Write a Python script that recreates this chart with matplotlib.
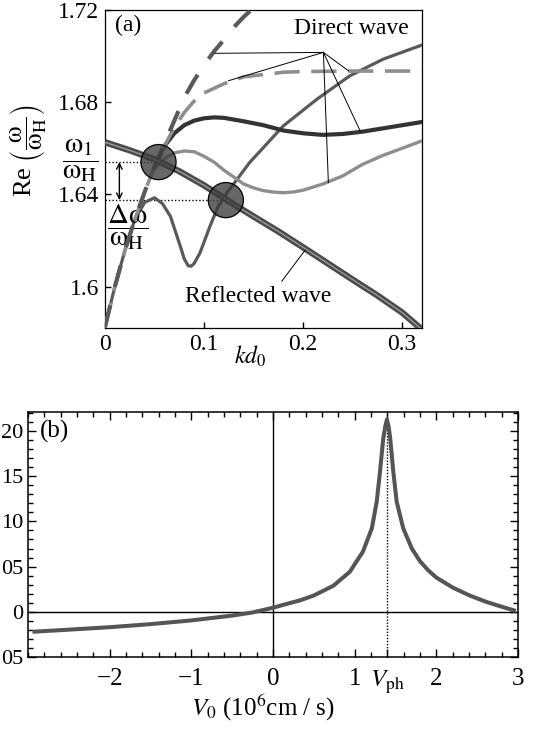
import matplotlib
matplotlib.use("Agg")
import matplotlib.pyplot as plt
from matplotlib.ticker import MultipleLocator

plt.rcParams['font.family'] = ['Liberation Serif', 'DejaVu Serif']
plt.rcParams['mathtext.fontset'] = 'stix'

# ---- panel (a): dispersion curves, Re(w/wH) vs k*d0 ----
kd_refl = [0, 0.025, 0.05, 0.075, 0.1, 0.125, 0.15, 0.175, 0.2, 0.225, 0.25, 0.275, 0.3, 0.32]
w_refl = [1.6626, 1.6591, 1.6552, 1.6500, 1.6439, 1.6370, 1.6304, 1.6239, 1.6170, 1.6100,
          1.6030, 1.5961, 1.5887, 1.5813]

kd_dash_dark = [0, 0.01, 0.02, 0.03, 0.04, 0.05, 0.06, 0.07, 0.08, 0.09, 0.10, 0.11, 0.12,
                0.13, 0.14, 0.15, 0.16]
w_dash_dark = [1.5825, 1.600, 1.6155, 1.629, 1.641, 1.652, 1.662, 1.672, 1.682, 1.6895, 1.696,
               1.702, 1.707, 1.7125, 1.717, 1.721, 1.725]

kd_dash_light = [0, 0.01, 0.02, 0.03, 0.04, 0.05, 0.06, 0.07, 0.08, 0.09, 0.10, 0.11, 0.12,
                 0.13, 0.14, 0.16, 0.18, 0.20, 0.25, 0.32]
w_dash_light = [1.5825, 1.600, 1.6155, 1.629, 1.641, 1.652, 1.661, 1.669, 1.6755, 1.6805, 1.684,
                1.686, 1.688, 1.6895, 1.691, 1.692, 1.693, 1.6933, 1.6935, 1.6935]

kd_solid_dark = [0.05, 0.06, 0.07, 0.08, 0.09, 0.10, 0.11, 0.12, 0.14, 0.16, 0.18, 0.20, 0.22,
                 0.24, 0.26, 0.28, 0.30, 0.32]
w_solid_dark = [1.652, 1.661, 1.6665, 1.6700, 1.6720, 1.6730, 1.6734, 1.6732, 1.6717, 1.6700,
                1.6677, 1.6665, 1.6658, 1.6662, 1.6672, 1.6686, 1.6700, 1.6714]

kd_solid_light = [0.05, 0.06, 0.07, 0.08, 0.09, 0.10, 0.11, 0.12, 0.13, 0.14, 0.15, 0.16, 0.17,
                  0.18, 0.19, 0.20, 0.22, 0.24, 0.26, 0.28, 0.30, 0.32]
w_solid_light = [1.651, 1.6555, 1.658, 1.6588, 1.6585, 1.6565, 1.6540, 1.6505, 1.6475, 1.6445,
                 1.6428, 1.6416, 1.6410, 1.6407, 1.6410, 1.6418, 1.6445, 1.6480, 1.6530, 1.6568,
                 1.6600, 1.6632]

kd_rise = [0, 0.01, 0.02, 0.03, 0.04, 0.05, 0.058, 0.066, 0.076, 0.080, 0.084, 0.087, 0.09,
           0.096, 0.106, 0.114, 0.122, 0.146, 0.18, 0.214, 0.247, 0.281, 0.32]
w_rise = [1.5825, 1.600, 1.6155, 1.629, 1.6365, 1.6385, 1.636, 1.6305, 1.6175, 1.6120, 1.6090,
          1.6088, 1.6100, 1.6147, 1.6262, 1.6345, 1.6400, 1.6538, 1.6697, 1.6813, 1.6914,
          1.6987, 1.7048]

# intersection points (circles)
cross_kd = [0.054, 0.122]
cross_w = [1.654, 1.6375]

# label pointers: "Direct wave" hub and its targets, "Reflected wave" pointer
direct_hub = (0.2205, 1.7016)
direct_tips = [(0.111, 1.7012), (0.1246, 1.6893), (0.2255, 1.6451), (0.2576, 1.6675),
               (0.2458, 1.6936)]
refl_ptr = [(0.1785, 1.6023), (0.202, 1.6158)]

# ---- panel (b) ----
v0 = [-2.92, -2.5, -2.0, -1.5, -1.0, -0.5, -0.25, 0.0, 0.15, 0.33, 0.5, 0.74, 0.94, 1.1, 1.21,
      1.27, 1.31, 1.35, 1.375, 1.395, 1.415, 1.435, 1.473, 1.514, 1.595, 1.70, 1.80, 1.90,
      2.0, 2.2, 2.4, 2.6, 2.8, 2.95]
gain = [-0.0217, -0.0195, -0.0168, -0.0134, -0.0093, -0.0040, -0.0005, 0.0047, 0.0085, 0.0128,
        0.0182, 0.0290, 0.0443, 0.0664, 0.0922, 0.1217, 0.1548, 0.1916, 0.2050, 0.2125,
        0.2050, 0.1916, 0.1548, 0.1217, 0.0922, 0.0700, 0.0560, 0.0460, 0.0380, 0.0270,
        0.0185, 0.0115, 0.0058, 0.0018]
v_ph = 1.4

fig = plt.figure(figsize=(5.33, 7.30), dpi=100)

# ================= (a) =================
ax = fig.add_axes([0.197, 0.5507, 0.5947, 0.4356])
fs_a = 17

ax.plot(kd_rise, w_rise, color='#5a5a5a', lw=2.3, zorder=3)
ax.plot(kd_solid_light, w_solid_light, color='#8e8e8e', lw=2.4, zorder=3)
ax.plot(kd_solid_dark, w_solid_dark, color='#333333', lw=3.0, zorder=3)
ax.plot(kd_dash_light, w_dash_light, color='#8e8e8e', lw=2.6, dashes=[7, 3.2], zorder=4)
ax.plot(kd_dash_dark, w_dash_dark, color='#5a5a5a', lw=3.0, dashes=[5.3, 4.6], zorder=4)
ax.plot(kd_refl, w_refl, color='#4a4a4a', lw=4.6, zorder=5, solid_capstyle='butt')
ax.plot(kd_refl, w_refl, color='#9a9a9a', lw=1.0, zorder=5)

ax.scatter(cross_kd, cross_w, s=640, facecolor='#3c3c3c', alpha=0.78, edgecolor='none', zorder=6)
ax.scatter(cross_kd, cross_w, s=640, facecolor='none', edgecolor='black', lw=0.9, zorder=6)

# dotted levels and the double arrow
for kx, wy in zip(cross_kd, cross_w):
    ax.plot([0, kx], [wy, wy], color='black', lw=1.0, ls=(0, (1, 1.5)), zorder=2)
ax.annotate('', xy=(0.0145, cross_w[0]), xytext=(0.0145, cross_w[1]),
            arrowprops=dict(arrowstyle='<->', lw=1.0, color='black', shrinkA=0, shrinkB=0))

for tx, ty in direct_tips:
    ax.plot([direct_hub[0], tx], [direct_hub[1], ty], color='black', lw=0.7, zorder=7)
ax.plot([p[0] for p in refl_ptr], [p[1] for p in refl_ptr], color='black', lw=0.7, zorder=7)

ax.text(0.2485, 1.7118, 'Direct wave', fontsize=fs_a, ha='center', va='center')
ax.text(0.155, 1.5957, 'Reflected wave', fontsize=fs_a, ha='center', va='center')
ax.text(0.03, 0.95, '(a)', fontsize=fs_a, ha='left', va='center', transform=ax.transAxes)

ty = ax.get_yaxis_transform()
ax.text(-0.02, 1.6548, r'$\dfrac{\mathrm{\omega}_1}{\mathrm{\omega}_{\rm H}}$', fontsize=21,
        ha='right', va='center', transform=ty)
ax.text(0.006, 1.6255, r'$\dfrac{\Delta\mathrm{\omega}}{\mathrm{\omega}_{\rm H}}$', fontsize=21,
        ha='left', va='center', transform=ty)
ax.text(-0.243, 0.557, r'Re $\left(\dfrac{\mathrm{\omega}}{\mathrm{\omega}_{\rm H}}\right)$',
        fontsize=19, rotation=90, ha='center', va='center', transform=ax.transAxes)
ax.text(0.457, -0.088, r'$kd_{\rm 0}$', fontsize=fs_a, ha='center', va='center',
        transform=ax.transAxes)

ax.set_xlim(0, 0.32)
ax.set_ylim(1.582, 1.72)
ax.set_xticks([0, 0.1, 0.2, 0.3])
ax.set_xticklabels(['0', '0.1', '0.2', '0.3'])
ax.set_yticks([1.6, 1.64, 1.68, 1.72])
ax.set_yticklabels(['1.6', '1.64', '1.68', '1.72'])
ax.tick_params(direction='in', length=4, width=1, labelsize=fs_a, pad=4)
for sp in ax.spines.values():
    sp.set_linewidth(0.9)

# ================= (b) =================
bx = fig.add_axes([0.0525, 0.0996, 0.9194, 0.3364])
fs_b = 18

bx.axhline(0, color='black', lw=1.0, zorder=1)
bx.axvline(0, color='black', lw=1.0, zorder=1)
bx.axvline(v_ph, color='black', lw=1.0, ls=(0, (1, 1.2)), zorder=1)
bx.plot(v0, gain, color='#555555', lw=2.9, zorder=3)

bx.text(0.0245, 0.919, '(b)', fontsize=fs_b, ha='left', va='center', transform=bx.transAxes)
bx.text(0.48, -0.206, r'$V_{\rm 0}$ (10$^{6}$cm / s)', fontsize=fs_b, ha='center',
        va='center', transform=bx.transAxes)

bx.set_xlim(-3, 3)
bx.set_ylim(-0.05, 0.221)
bx.set_xticks([-2, -1, 0, 1, v_ph, 2, 3])
bx.set_xticklabels(['\u22122', '\u22121', '0', '1', r'$V_{\rm ph}$', '2', '3'])
# only the tail of these labels is visible at the picture's left edge
bx.set_yticks([-0.05, 0, 0.05, 0.10, 0.15, 0.20])
bx.set_yticklabels(['05', '0', '05', '10', '15', '20'])
bx.xaxis.set_minor_locator(MultipleLocator(0.2))
bx.yaxis.set_minor_locator(MultipleLocator(0.01))
bx.tick_params(which='both', direction='in', top=True, right=True, width=1,
               labelsize=fs_b)
bx.tick_params(which='major', length=6)
bx.tick_params(which='minor', length=3.5)
bx.tick_params(axis='x', pad=8)
bx.tick_params(axis='y', pad=3.5, labelsize=16)
for sp in bx.spines.values():
    sp.set_linewidth(1.1)

fig.savefig('out.png', dpi=100)
